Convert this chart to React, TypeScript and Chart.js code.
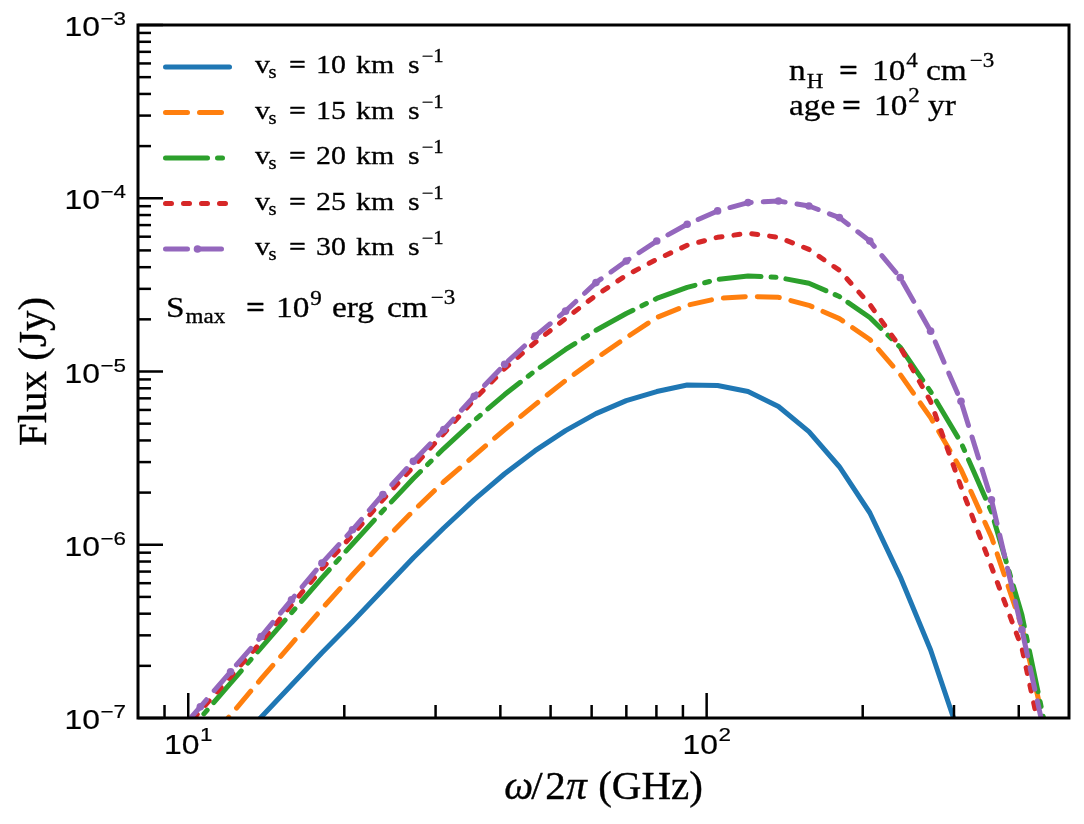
import { useEffect, useRef } from 'react';
import { Chart, registerables } from 'chart.js';

Chart.register(...registerables);

// Frequency grid (GHz), log-spaced
const freqGHz = [
  9.21, 10.55, 12.07, 13.82, 15.82, 18.11, 20.74, 23.74, 27.18, 31.11,
  35.62, 40.77, 46.68, 53.43, 61.17, 69.98, 80.12, 91.71, 104.98, 120.19,
  137.58, 157.5, 180.3, 206.41, 236.3, 270.4, 309.5, 354.3, 405.6, 464.4,
];

// Flux (Jy) for each shock velocity
const flux10 = [
  2.82e-8, 4.33e-8, 6.62e-8, 1.01e-7, 1.55e-7, 2.38e-7, 3.59e-7, 5.5e-7, 8.41e-7, 1.25e-6,
  1.82e-6, 2.57e-6, 3.49e-6, 4.56e-6, 5.71e-6, 6.79e-6, 7.66e-6, 8.36e-6, 8.3e-6, 7.66e-6,
  6.28e-6, 4.5e-6, 2.82e-6, 1.53e-6, 6.53e-7, 2.47e-7, 7.46e-8, 1.73e-8, 3.06e-9, 4.0e-10,
];
const flux15 = [
  4.1e-8, 6.53e-8, 1.04e-7, 1.68e-7, 2.68e-7, 4.27e-7, 6.71e-7, 1.04e-6, 1.57e-6, 2.31e-6,
  3.27e-6, 4.62e-6, 6.44e-6, 8.87e-6, 1.19e-5, 1.57e-5, 2.05e-5, 2.41e-5, 2.64e-5, 2.71e-5,
  2.68e-5, 2.41e-5, 2.02e-5, 1.53e-5, 9.61e-6, 5.42e-6, 2.72e-6, 1.11e-6, 3.36e-7, 5.71e-8,
];
const flux20 = [
  6.28e-8, 1.0e-7, 1.59e-7, 2.54e-7, 4.05e-7, 6.44e-7, 1.01e-6, 1.57e-6, 2.41e-6, 3.59e-6,
  5.21e-6, 7.36e-6, 1.01e-5, 1.34e-5, 1.73e-5, 2.16e-5, 2.64e-5, 3.06e-5, 3.4e-5, 3.56e-5,
  3.49e-5, 3.23e-5, 2.71e-5, 2.05e-5, 1.38e-5, 7.66e-6, 3.89e-6, 1.55e-6, 3.94e-7, 5.71e-8,
];
const flux25 = [
  6.89e-8, 1.1e-7, 1.73e-7, 2.75e-7, 4.5e-7, 7.26e-7, 1.14e-6, 1.82e-6, 2.82e-6, 4.38e-6,
  6.89e-6, 1.04e-5, 1.47e-5, 2.02e-5, 2.75e-5, 3.59e-5, 4.44e-5, 5.35e-5, 5.95e-5, 6.28e-5,
  5.95e-5, 5.07e-5, 3.84e-5, 2.44e-5, 1.38e-5, 6.71e-6, 2.16e-6, 7.46e-7, 2.54e-7, 3.84e-8,
];
const flux30 = [
  7.26e-8, 1.16e-7, 1.85e-7, 2.95e-7, 4.81e-7, 7.83e-7, 1.22e-6, 1.95e-6, 3.03e-6, 4.62e-6,
  7.2e-6, 1.1e-5, 1.6e-5, 2.23e-5, 3.26e-5, 4.34e-5, 5.66e-5, 7.08e-5, 8.45e-5, 9.44e-5,
  9.64e-5, 9.02e-5, 7.73e-5, 5.66e-5, 3.48e-5, 1.71e-5, 6.73e-6, 1.82e-6, 3.23e-7, 5.0e-8,
];

const speeds = [10, 15, 20, 25, 30];
const xMajorTicks = [10, 100];
const xMinorTicks = [9, 20, 30, 40, 50, 60, 70, 80, 90, 200, 300, 400];
const yMajorTicks = [1e-7, 1e-6, 1e-5, 1e-4, 1e-3];

const SERIF = '"Liberation Serif", "DejaVu Serif", serif';
const SANS = '"Liberation Sans", Arial, sans-serif';

const series = [
  { values: flux10, color: '#1f77b4', dash: [] as number[], marker: false },
  { values: flux15, color: '#ff7f0e', dash: [22, 12], marker: false },
  { values: flux20, color: '#2ca02c', dash: [42, 10, 5, 10], marker: false },
  { values: flux25, color: '#d62728', dash: [6, 12], marker: false },
  { values: flux30, color: '#9467bd', dash: [22, 12], marker: true },
];

const LINE_W = 5;

// A text run: placed at `at` (px from the line start) or right after the previous run plus `gap`
type Piece = { t: string; size: number; at?: number; gap?: number; rise?: number; italic?: boolean; bold?: boolean };

function drawPieces(
  ctx: CanvasRenderingContext2D,
  x0: number,
  baseline: number,
  pieces: Piece[],
  family: string,
  sx: number,
  weight = 0.3,
) {
  let end = 0;
  for (const p of pieces) {
    const font = `${p.italic ? 'italic ' : ''}${p.bold ? 'bold ' : ''}${p.size}px ${family}`;
    ctx.font = font;
    const w = ctx.measureText(p.t).width * sx;
    const x = p.at !== undefined ? p.at : end + (p.gap ?? 0);
    ctx.save();
    ctx.translate(x0 + x, baseline - (p.rise ?? 0));
    ctx.scale(sx, 1);
    ctx.font = font;
    ctx.textAlign = 'left';
    ctx.textBaseline = 'alphabetic';
    ctx.fillStyle = '#000';
    ctx.fillText(p.t, 0, 0);
    if (weight > 0) {
      ctx.strokeStyle = '#000';
      ctx.lineWidth = weight;
      ctx.lineJoin = 'round';
      ctx.strokeText(p.t, 0, 0);
    }
    ctx.restore();
    end = x + w;
  }
  return end;
}

function measurePieces(ctx: CanvasRenderingContext2D, pieces: Piece[], family: string, sx: number) {
  let end = 0;
  for (const p of pieces) {
    ctx.font = `${p.italic ? 'italic ' : ''}${p.bold ? 'bold ' : ''}${p.size}px ${family}`;
    const x = p.at !== undefined ? p.at : end + (p.gap ?? 0);
    end = x + ctx.measureText(p.t).width * sx;
  }
  return end;
}

// "10" with a superscript exponent
function powerPieces(exp: number, main: number, sup: number, rise: number): Piece[] {
  const e = (exp < 0 ? '\u2212' : '') + Math.abs(exp);
  return [
    { t: '10', size: main, at: 0 },
    { t: e, size: sup, gap: 0.5, rise },
  ];
}

const decorPlugin = {
  id: 'decor',
  afterDraw(chart: any) {
    const { ctx, chartArea: a, scales } = chart;
    const xs = scales.x;
    const ys = scales.y;
    ctx.save();

    // inward tick marks
    ctx.strokeStyle = '#000';
    ctx.lineWidth = 2.5;
    ctx.lineCap = 'butt';
    const tick = (x1: number, y1: number, x2: number, y2: number) => {
      ctx.beginPath();
      ctx.moveTo(x1, y1);
      ctx.lineTo(x2, y2);
      ctx.stroke();
    };
    xMajorTicks.forEach((v) => {
      const px = xs.getPixelForValue(v);
      tick(px, a.bottom, px, a.bottom - 25);
    });
    xMinorTicks.forEach((v) => {
      const px = xs.getPixelForValue(v);
      tick(px, a.bottom, px, a.bottom - 13);
    });
    yMajorTicks.forEach((v, i) => {
      const py = ys.getPixelForValue(v);
      tick(a.left, py, a.left + 25, py);
      if (i < yMajorTicks.length - 1) {
        for (let m = 2; m <= 9; m++) {
          const pm = ys.getPixelForValue(v * m);
          tick(a.left, pm, a.left + 13, pm);
        }
      }
    });

    // axes frame
    ctx.lineWidth = 3;
    ctx.strokeRect(a.left, a.top, a.right - a.left, a.bottom - a.top);

    // tick labels
    const TSX = 1.18;
    yMajorTicks.forEach((v) => {
      const py = ys.getPixelForValue(v);
      const pieces = powerPieces(Math.round(Math.log10(v)), 27, 19, 11);
      const width = measurePieces(ctx, pieces, SANS, TSX);
      drawPieces(ctx, a.left - 12 - width, py + 11, pieces, SANS, TSX, 0.2);
    });
    xMajorTicks.forEach((v) => {
      const px = xs.getPixelForValue(v);
      const pieces = powerPieces(Math.round(Math.log10(v)), 27, 19, 13);
      const width = measurePieces(ctx, pieces, SANS, TSX);
      drawPieces(ctx, px - width / 2, 754, pieces, SANS, TSX, 0.2);
    });

    // axis titles
    const xTitle: Piece[] = [
      { t: '\u03c9', at: 0, size: 41, italic: true },
      { t: '/', at: 27, size: 41 },
      { t: '2', at: 41, size: 41 },
      { t: '\u03c0', at: 62, size: 41, italic: true },
      { t: '(GHz)', at: 94, size: 41 },
    ];
    const xTitleW = measurePieces(ctx, xTitle, SERIF, 1);
    drawPieces(ctx, (a.left + a.right) / 2 - xTitleW / 2, 799, xTitle, SERIF, 1, 0.4);

    ctx.save();
    ctx.translate(46, (a.top + a.bottom) / 2);
    ctx.rotate(-Math.PI / 2);
    const yTitle: Piece[] = [{ t: 'Flux (Jy)', at: 0, size: 41 }];
    const yTitleW = measurePieces(ctx, yTitle, SERIF, 1);
    drawPieces(ctx, -yTitleW / 2, 0, yTitle, SERIF, 1, 0.4);
    ctx.restore();

    // legend
    const LSX = 1.15;
    chart.data.datasets.forEach((ds: any, i: number) => {
      const y = 67 + i * 45.5;
      ctx.save();
      ctx.strokeStyle = ds.borderColor;
      ctx.lineWidth = LINE_W;
      ctx.lineCap = 'round';
      ctx.setLineDash(ds.borderDash || []);
      ctx.beginPath();
      ctx.moveTo(165.5, y);
      ctx.lineTo(229.5, y);
      ctx.stroke();
      if (ds.pointRadius > 0) {
        ctx.setLineDash([]);
        ctx.fillStyle = ds.backgroundColor;
        ctx.beginPath();
        ctx.arc(197.5, y, ds.pointRadius, 0, Math.PI * 2);
        ctx.fill();
      }
      ctx.restore();
      const row: Piece[] = [
        { t: 'v', at: 0, size: 26 },
        { t: 's', at: 13.5, size: 18, rise: -5 },
        { t: '=', at: 34, size: 26, bold: true },
        { t: String(speeds[i]), at: 61, size: 26 },
        { t: 'km', at: 101, size: 26 },
        { t: 's', at: 153, size: 26 },
        { t: '\u22121', gap: 2, size: 18, rise: 11 },
      ];
      drawPieces(ctx, 255, y + 6, row, SERIF, LSX);
    });

    // parameter annotations
    const ASX = 1.15;
    drawPieces(ctx, 789, 80, [
      { t: 'n', at: 0, size: 29 },
      { t: 'H', gap: 1, size: 20, rise: -8 },
      { t: '=', at: 50, size: 29, bold: true },
      { t: '10', at: 83, size: 29 },
      { t: '4', gap: 1, size: 20, rise: 13 },
      { t: 'cm', at: 137, size: 29 },
      { t: '\u22123', gap: 3, size: 20, rise: 13 },
    ], SERIF, ASX);
    drawPieces(ctx, 789, 115, [
      { t: 'age', at: 0, size: 29 },
      { t: '=', at: 53, size: 29, bold: true },
      { t: '10', at: 85, size: 29 },
      { t: '2', gap: 1, size: 20, rise: 13 },
      { t: 'yr', at: 139, size: 29 },
    ], SERIF, ASX);
    drawPieces(ctx, 166, 317, [
      { t: 'S', at: 0, size: 29 },
      { t: 'max', gap: 1, size: 20, rise: -6 },
      { t: '=', at: 80, size: 29, bold: true },
      { t: '10', at: 110, size: 29 },
      { t: '9', gap: 1, size: 20, rise: 12 },
      { t: 'erg', at: 166, size: 29 },
      { t: 'cm', at: 221, size: 29 },
      { t: '\u22123', gap: 3, size: 20, rise: 13 },
    ], SERIF, ASX);

    ctx.restore();
  },
};

export default function App() {
  const canvasRef = useRef<HTMLCanvasElement>(null);

  useEffect(() => {
    const canvas = canvasRef.current;
    if (!canvas) return;
    const datasets = series.map((s, i) => ({
      label: `v_s = ${speeds[i]} km s^-1`,
      data: freqGHz.map((f, j) => ({ x: f, y: s.values[j] })),
      borderColor: s.color,
      backgroundColor: s.color,
      borderWidth: LINE_W,
      borderDash: s.dash,
      borderCapStyle: 'round',
      borderJoinStyle: 'round',
      pointRadius: s.marker ? 3.8 : 0,
      pointBorderWidth: 0,
      pointHoverRadius: 0,
      tension: 0,
      fill: false,
      clip: 0,
      order: series.length - i,
    }));
    const chart = new Chart(canvas, {
      type: 'line',
      data: { datasets } as any,
      options: {
        animation: false,
        responsive: false,
        devicePixelRatio: 1,
        events: [],
        layout: { padding: { left: 138, top: 25, right: 15, bottom: 106 } },
        plugins: { legend: { display: false }, tooltip: { enabled: false } },
        scales: {
          x: { type: 'logarithmic', min: 8, max: 500, display: false },
          y: { type: 'logarithmic', min: 1e-7, max: 1e-3, display: false },
        },
      } as any,
      plugins: [decorPlugin],
    });
    return () => chart.destroy();
  }, []);

  return (
    <div style={{ position: 'absolute', left: 0, top: 0, width: 1084, height: 824, background: '#ffffff' }}>
      <canvas ref={canvasRef} width={1084} height={824} style={{ display: 'block' }} />
    </div>
  );
}
